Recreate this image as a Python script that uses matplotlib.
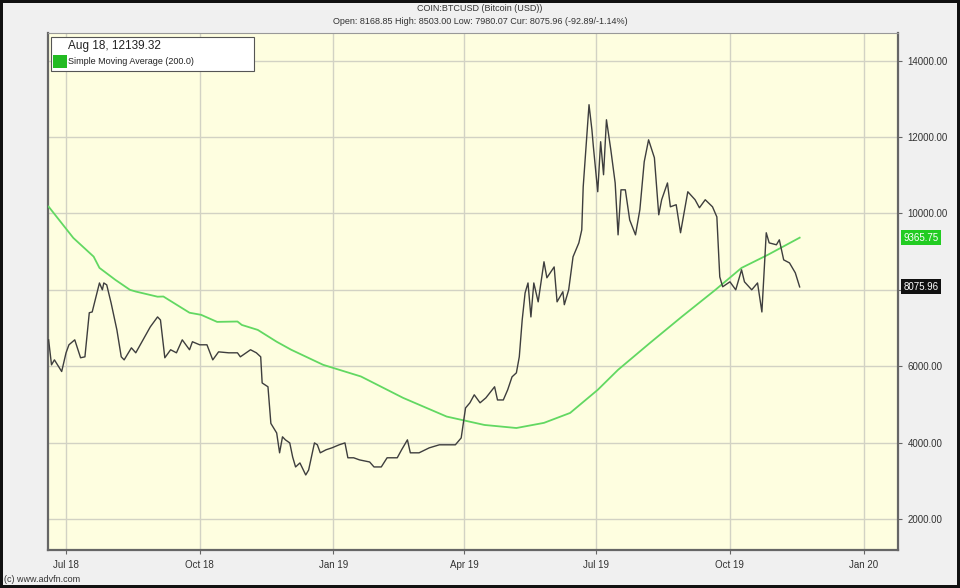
import matplotlib
matplotlib.use("Agg")
import matplotlib.pyplot as plt
import matplotlib.patches as mpatches
import pandas as pd

plt.rcParams['font.family'] = ['Liberation Sans Narrow', 'Liberation Sans', 'DejaVu Sans']

# BTC/USD close
price_dates = [
    "2018-06-19", "2018-06-21", "2018-06-23", "2018-06-28", "2018-07-01", "2018-07-03",
    "2018-07-07", "2018-07-11", "2018-07-14", "2018-07-17", "2018-07-19", "2018-07-24",
    "2018-07-26", "2018-07-27", "2018-07-29", "2018-08-01", "2018-08-05", "2018-08-08",
    "2018-08-10", "2018-08-15", "2018-08-18", "2018-08-23", "2018-08-28", "2018-09-02",
    "2018-09-04", "2018-09-07", "2018-09-11", "2018-09-15", "2018-09-19", "2018-09-24",
    "2018-09-26", "2018-10-01", "2018-10-06", "2018-10-10", "2018-10-14", "2018-10-21",
    "2018-10-27", "2018-10-29", "2018-11-05", "2018-11-09", "2018-11-12", "2018-11-13",
    "2018-11-17", "2018-11-19", "2018-11-23", "2018-11-25", "2018-11-27", "2018-11-29",
    "2018-12-02", "2018-12-04", "2018-12-06", "2018-12-09", "2018-12-13", "2018-12-15",
    "2018-12-19", "2018-12-21", "2018-12-23", "2018-12-27", "2018-12-31", "2019-01-05",
    "2019-01-09", "2019-01-11", "2019-01-15", "2019-01-19", "2019-01-26", "2019-01-29",
    "2019-02-03", "2019-02-07", "2019-02-14", "2019-02-17", "2019-02-21", "2019-02-23",
    "2019-03-01", "2019-03-08", "2019-03-15", "2019-03-22", "2019-03-26", "2019-03-30",
    "2019-04-02", "2019-04-05", "2019-04-08", "2019-04-12", "2019-04-16", "2019-04-22",
    "2019-04-24", "2019-04-28", "2019-05-01", "2019-05-04", "2019-05-07", "2019-05-09",
    "2019-05-11", "2019-05-13", "2019-05-15", "2019-05-17", "2019-05-19", "2019-05-22",
    "2019-05-26", "2019-05-28", "2019-06-02", "2019-06-04", "2019-06-08", "2019-06-09",
    "2019-06-12", "2019-06-15", "2019-06-19", "2019-06-21", "2019-06-22", "2019-06-26",
    "2019-06-28", "2019-06-29", "2019-07-02", "2019-07-04", "2019-07-06", "2019-07-08",
    "2019-07-11", "2019-07-14", "2019-07-16", "2019-07-18", "2019-07-21", "2019-07-24",
    "2019-07-28", "2019-07-31", "2019-08-03", "2019-08-06", "2019-08-10", "2019-08-13",
    "2019-08-15", "2019-08-19", "2019-08-21", "2019-08-25", "2019-08-28", "2019-09-02",
    "2019-09-07", "2019-09-10", "2019-09-14", "2019-09-19", "2019-09-22", "2019-09-24",
    "2019-09-26", "2019-10-01", "2019-10-05", "2019-10-09", "2019-10-11", "2019-10-16",
    "2019-10-20", "2019-10-23", "2019-10-26", "2019-10-28", "2019-11-02", "2019-11-04",
    "2019-11-07", "2019-11-11", "2019-11-15", "2019-11-18",
]
price_values = [
    6690, 6035, 6165, 5860, 6350, 6560,
    6690, 6220, 6245, 7400, 7420, 8180,
    8000, 8180, 8130, 7660, 6950, 6245,
    6165, 6480, 6350, 6690, 7030, 7290,
    7210, 6220, 6430, 6350, 6690, 6430,
    6640, 6560, 6560, 6165, 6375, 6350,
    6350, 6245, 6430, 6350, 6245, 5560,
    5460, 4500, 4250, 3730, 4150, 4070,
    3990, 3620, 3360, 3465, 3150, 3280,
    3990, 3940, 3730, 3810, 3860, 3940,
    3990, 3600, 3600, 3545, 3490, 3360,
    3360, 3600, 3600, 3810, 4070, 3730,
    3730, 3860, 3940, 3940, 3940, 4120,
    4905, 5040, 5250, 5040, 5170, 5460,
    5115, 5115, 5380, 5720, 5825, 6245,
    7210, 7920, 8180, 7290, 8180, 7685,
    8735, 8315, 8600, 7685, 7950, 7610,
    8000, 8865, 9230, 9570, 10700, 12850,
    12190, 11750, 10570, 11880, 11015, 12455,
    11670, 10800, 9440, 10620, 10620, 9830,
    9440, 10100, 11355, 11930, 11460, 9965,
    10360, 10800, 10175, 10230, 9495, 10570,
    10360, 10150, 10360, 10175, 9910, 8340,
    8080, 8210, 8000, 8525, 8210, 8000,
    8180, 7420, 9495, 9230, 9180, 9310,
    8785, 8705, 8445, 8076,
]

# 200-day simple moving average
sma_dates = [
    "2018-06-19", "2018-07-06", "2018-07-20", "2018-07-24", "2018-08-04", "2018-08-14",
    "2018-08-18", "2018-09-02", "2018-09-06", "2018-09-24", "2018-10-02", "2018-10-13",
    "2018-10-27", "2018-10-30", "2018-11-10", "2018-11-23", "2018-12-03", "2018-12-25",
    "2019-01-20", "2019-02-18", "2019-03-20", "2019-04-15", "2019-05-07", "2019-05-26",
    "2019-06-13", "2019-07-02", "2019-07-16", "2019-08-07", "2019-08-29", "2019-09-21",
    "2019-10-09", "2019-10-27", "2019-11-18",
]
sma_values = [
    10180, 9360, 8870, 8575, 8260, 8000,
    7955, 7820, 7825, 7400, 7345, 7160,
    7170, 7080, 6950, 6640, 6430, 6035,
    5730, 5170, 4680, 4460, 4380, 4515,
    4775, 5380, 5905, 6610, 7300, 8000,
    8575, 8915, 9366,
]

y_ticks = [2000, 4000, 6000, 8000, 10000, 12000, 14000]
# 8000.00 sits under the last-price box in the original
y_tick_labels = ["2000.00", "4000.00", "6000.00", "", "10000.00", "12000.00", "14000.00"]
x_tick_dates = ["2018-07-01", "2018-10-01", "2019-01-01", "2019-04-01",
                "2019-07-01", "2019-10-01", "2020-01-01"]
x_tick_labels = ["Jul 18", "Oct 18", "Jan 19", "Apr 19", "Jul 19", "Oct 19", "Jan 20"]

title_1 = "COIN:BTCUSD (Bitcoin (USD))"
title_2 = "Open: 8168.85 High: 8503.00 Low: 7980.07 Cur: 8075.96 (-92.89/-1.14%)"

px = pd.to_datetime(price_dates)
sx = pd.to_datetime(sma_dates)

fig = plt.figure(figsize=(9.6, 5.88), dpi=100, facecolor="#f0f0f0")
fig.patch.set_edgecolor("#111111")
fig.patch.set_linewidth(4)
ax = fig.add_axes([0.050, 0.065, 0.885, 0.879])
ax.set_facecolor("#fefee0")

ax.plot(sx, sma_values, color="#62d862", lw=1.3, zorder=3)
ax.plot(px, price_values, color="#3e3e3e", lw=1.0, zorder=4)

ax.set_xlim(pd.Timestamp("2018-06-18 14:00"), pd.Timestamp("2020-01-24 10:00"))
ax.set_ylim(1190, 14730)

ax.set_xticks(pd.to_datetime(x_tick_dates))
ax.set_xticklabels(x_tick_labels, fontsize=7, color="#333333")
ax.set_yticks(y_ticks)
ax.set_yticklabels(y_tick_labels, fontsize=7, color="#333333")
ax.yaxis.tick_right()
ax.tick_params(axis="y", length=3, pad=4, color="#666666")
ax.tick_params(axis="x", length=3, pad=4, color="#666666")
ax.grid(True, color="#d2d2c4", lw=1.0)
for s in ["left", "bottom", "right"]:
    ax.spines[s].set_color("#666666")
    ax.spines[s].set_linewidth(1.6)
ax.spines["top"].set_color("#999999")
ax.spines["top"].set_linewidth(0.8)

# last-value boxes on the right axis
ax.annotate("%.2f" % 9365.75, xy=(1.0, sma_values[-1]), xycoords=("axes fraction", "data"),
            xytext=(4, 0), textcoords="offset points", va="center", ha="left",
            fontsize=7, color="white",
            bbox=dict(boxstyle="square,pad=0.25", fc="#22cc22", ec="none"))
ax.annotate("%.2f" % 8075.96, xy=(1.0, price_values[-1]), xycoords=("axes fraction", "data"),
            xytext=(4, 0), textcoords="offset points", va="center", ha="left",
            fontsize=7, color="white",
            bbox=dict(boxstyle="square,pad=0.25", fc="#111111", ec="none"))

# hover / legend box
box = mpatches.Rectangle((0.003, 0.927), 0.239, 0.066, transform=ax.transAxes,
                         fc="white", ec="#555555", lw=0.8, zorder=6)
ax.add_patch(box)
ax.add_patch(mpatches.Rectangle((0.006, 0.933), 0.016, 0.024, transform=ax.transAxes,
                                fc="#22bb22", ec="none", zorder=7))
ax.text(0.024, 0.975, "Aug 18, 12139.32", transform=ax.transAxes, fontsize=8.5,
        va="center", ha="left", color="#222222", zorder=7)
ax.text(0.024, 0.945, "Simple Moving Average (200.0)", transform=ax.transAxes,
        fontsize=6.5, va="center", ha="left", color="#222222", zorder=7)

fig.text(0.5, 0.985, title_1, ha="center", va="center", fontsize=6.5, color="#333333")
fig.text(0.5, 0.963, title_2, ha="center", va="center", fontsize=6.5, color="#333333")
fig.text(0.004, 0.006, "(c) www.advfn.com", ha="left", va="bottom", fontsize=6.5,
         color="#333333")

fig.savefig("out.png", dpi=100, facecolor=fig.get_facecolor(), edgecolor=fig.get_edgecolor())
